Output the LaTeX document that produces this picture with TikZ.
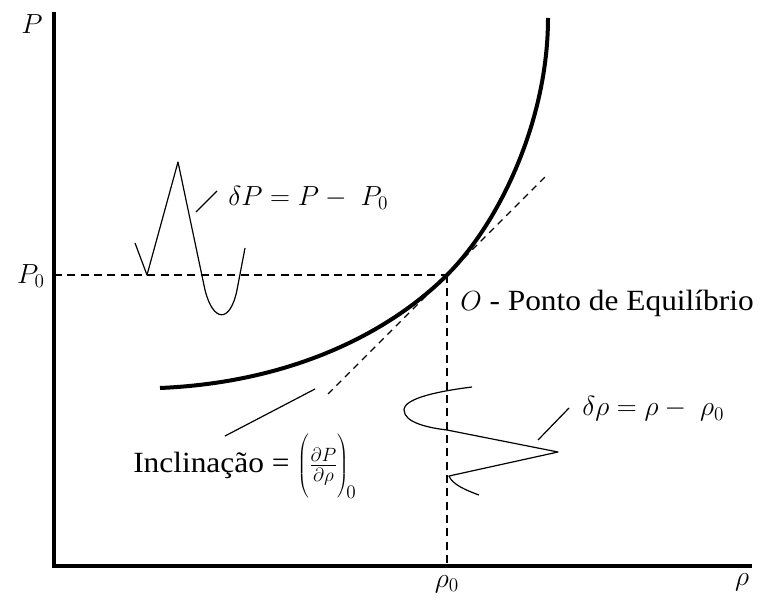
\documentclass[tikz,border=0pt]{standalone}
\usepackage{fontspec}
\setmainfont{Liberation Serif}[FakeStretch=1.07]
\begin{document}
\begin{tikzpicture}[x=0.75pt,y=-0.75pt,
  axis/.style={line width=3.6pt},
  curveline/.style={line width=3pt},
  thin/.style={line width=0.9pt},
  guide/.style={line width=0.9pt,dash pattern=on 6pt off 4pt},
  lbl/.style={font=\fontsize{22}{24}\selectfont,inner sep=0pt}]
\useasboundingbox (0,0) rectangle (762,602);
% axes
\coordinate (top) at (54,14);
\coordinate (orig) at (54,566);
\coordinate (xend) at (750,566);
\draw[axis,line cap=rect] (top) -- (orig) -- (xend);
\node[lbl] (Plab) at (32,24) {$P$};
\node[lbl] (P0lab) at (31,276) {$P_0$};
\node[lbl] (r0lab) at (447,584) {$\rho_0$};
\node[lbl] (rlab) at (742,582) {$\rho$};
% equilibrium point
\coordinate (O) at (447,275);
\coordinate (Py) at (54,275);
\coordinate (Rx) at (447,566);
\draw[guide] (Py) -- (O);
\draw[guide] (O) -- (Rx);
% tangent
\coordinate (t1) at (328,394);
\coordinate (t2) at (546,176);
\draw[thin,dash pattern=on 5pt off 4pt] (t1) -- (t2);
% main curve
\coordinate (c0) at (160,388);
\coordinate (c2) at (548,18);
\draw[curveline] (c0) .. controls (300,382) and (395,327) .. (O)
  .. controls (500,222) and (548,120) .. (c2);
% deltaP wave
\draw[thin,line join=round] (135,243) -- (147,275) -- (178,162) -- (205,290)
  .. controls (213,322) and (230,324) .. (237,290) -- (245,248);
\coordinate (dPa) at (196,212);
\coordinate (dPb) at (217,191);
\draw[thin] (dPa) -- (dPb);
\node[lbl,anchor=west] (dP) at (228,198) {$\delta P = P -\ P_0$};
% delta rho wave
\draw[thin,line join=round] (472,387) .. controls (440,391) and (404,398) .. (404,410)
  .. controls (404,423) and (430,428) .. (447,430) -- (558,452) -- (449,476)
  .. controls (452,484) and (465,490) .. (479,495);
\coordinate (dra) at (538,440);
\coordinate (drb) at (569,408);
\draw[thin] (dra) -- (drb);
\node[lbl,anchor=west] (dr) at (582,409) {$\delta\rho = \rho -\ \rho_0$};
% inclination
\coordinate (ia) at (225,436);
\coordinate (ib) at (315,389);
\draw[thin] (ia) -- (ib);
\node[lbl,anchor=west] (incl) at (133,466) {Inclinação = $\left(\vphantom{\displaystyle\frac{\partial P}{\partial\rho}}\frac{\partial P}{\partial \rho}\right)_{\!0}$};
% O label
\node[lbl,anchor=west] (Olab) at (460,303) {$O$ - Ponto de Equilíbrio};
\end{tikzpicture}
\end{document}
